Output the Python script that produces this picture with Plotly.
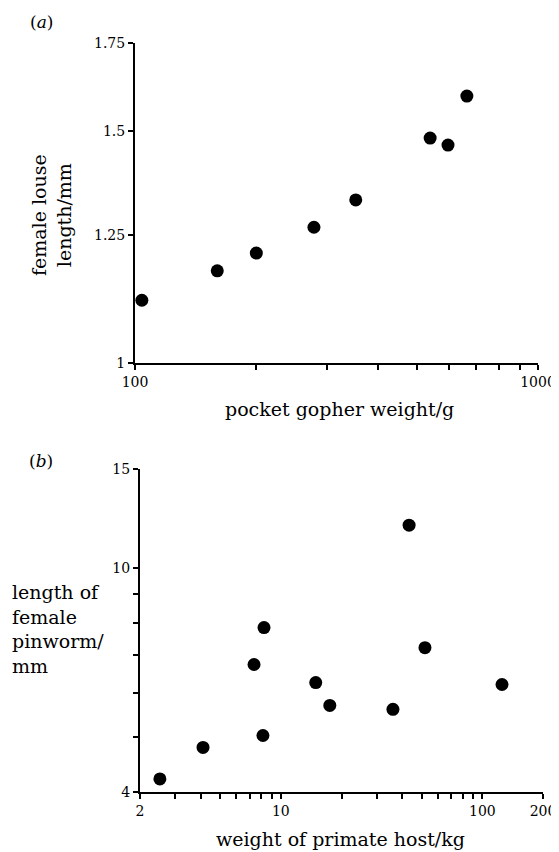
import math
import plotly.graph_objects as go

# ---- Panel (a): louse length vs pocket gopher weight ----
gopher_weight_g = [104, 160, 200, 278, 353, 540, 598, 666]
louse_length_mm = [1.116, 1.175, 1.212, 1.268, 1.330, 1.482, 1.464, 1.595]

a_xtick_vals = [100, 200, 300, 400, 500, 600, 700, 800, 900, 1000]
a_xtick_text = ["100", "", "", "", "", "", "", "", "", "1000"]
a_ytick_vals = [1, 1.25, 1.5, 1.75]
a_ytick_text = ["1", "1.25", "1.5", "1.75"]

# ---- Panel (b): pinworm length vs primate host weight ----
primate_weight_kg = [2.51, 4.11, 8.25, 7.36, 8.15, 43.3, 51.9, 14.9, 17.5, 36.0, 125.2]
pinworm_length_mm = [4.22, 4.80, 7.84, 6.74, 5.04, 11.92, 7.22, 6.26, 5.70, 5.61, 6.21]

b_xtick_vals = [2, 3, 4, 5, 6, 7, 8, 9, 10, 20, 30, 40, 50, 60, 70, 80, 90, 100, 200]
b_xtick_text = ["2", "", "", "", "", "", "", "", "10", "", "", "", "", "", "", "", "", "100", "200"]
b_ytick_vals = [4, 5, 6, 7, 8, 9, 10, 15]
b_ytick_text = ["4", "", "", "", "", "", "10", "15"]

OFF = 8  # page body margin
W, H = 559 - OFF, 852 - OFF
SERIF = "DejaVu Serif"

def px_x(p):
    return (p - OFF) / W

def px_y(p):
    return 1 - (p - OFF) / H

fig = go.Figure()
fig.add_trace(go.Scatter(
    x=gopher_weight_g, y=louse_length_mm, mode="markers",
    marker=dict(size=13, color="black"), cliponaxis=False,
    xaxis="x", yaxis="y", showlegend=False))
fig.add_trace(go.Scatter(
    x=primate_weight_kg, y=pinworm_length_mm, mode="markers",
    marker=dict(size=13, color="black"), cliponaxis=False,
    xaxis="x2", yaxis="y2", showlegend=False))

axis_common = dict(
    type="log", showgrid=False, zeroline=False, showline=True,
    linecolor="black", linewidth=2, ticks="outside", ticklen=5,
    tickwidth=1.5, tickcolor="black", tickmode="array",
    tickfont=dict(family=SERIF, size=14, color="black"),
    fixedrange=True, automargin=False,
)

fig.update_layout(
    template="none",
    width=W, height=H,
    margin=dict(l=0, r=0, t=0, b=0),
    paper_bgcolor="white", plot_bgcolor="white",
    font=dict(family=SERIF, color="black"),
    xaxis=dict(axis_common, domain=[px_x(135), px_x(538)],
               range=[2, 3], tickvals=a_xtick_vals, ticktext=a_xtick_text,
               anchor="y"),
    yaxis=dict(axis_common, domain=[px_y(363), px_y(43)],
               range=[0, math.log10(1.75)], tickvals=a_ytick_vals,
               ticktext=a_ytick_text, anchor="x"),
    xaxis2=dict(axis_common, domain=[px_x(140), px_x(543)],
                range=[math.log10(2), math.log10(200)], tickvals=b_xtick_vals,
                ticktext=b_xtick_text, anchor="y2"),
    yaxis2=dict(axis_common, domain=[px_y(792), px_y(469)],
                range=[math.log10(4), math.log10(15)], tickvals=b_ytick_vals,
                ticktext=b_ytick_text, anchor="x2"),
)

title_font = dict(family=SERIF, size=19, color="black")
label_font = dict(family=SERIF, size=17, color="black")
fig.add_annotation(text="(<i>a</i>)", x=px_x(41), y=px_y(22), xref="paper", yref="paper",
                   xanchor="center", yanchor="middle", showarrow=False, font=label_font)
fig.add_annotation(text="(<i>b</i>)", x=px_x(41), y=px_y(461), xref="paper", yref="paper",
                   xanchor="center", yanchor="middle", showarrow=False, font=label_font)
fig.add_annotation(text="female louse<br>length/mm", x=px_x(51), y=px_y(215),
                   xref="paper", yref="paper", showarrow=False, textangle=-90,
                   xanchor="center", yanchor="middle", font=title_font)
fig.add_annotation(text="pocket gopher weight/g", x=px_x(339), y=px_y(409),
                   xref="paper", yref="paper", showarrow=False,
                   xanchor="center", yanchor="middle", font=title_font)
fig.add_annotation(text="length of<br>female<br>pinworm/<br>mm", x=px_x(10), y=px_y(629),
                   xref="paper", yref="paper", showarrow=False, xanchor="left",
                   yanchor="middle", align="left", font=title_font)
fig.add_annotation(text="weight of primate host/kg", x=px_x(340), y=px_y(839),
                   xref="paper", yref="paper", showarrow=False,
                   xanchor="center", yanchor="middle", font=title_font)

fig.write_html("out.html")
